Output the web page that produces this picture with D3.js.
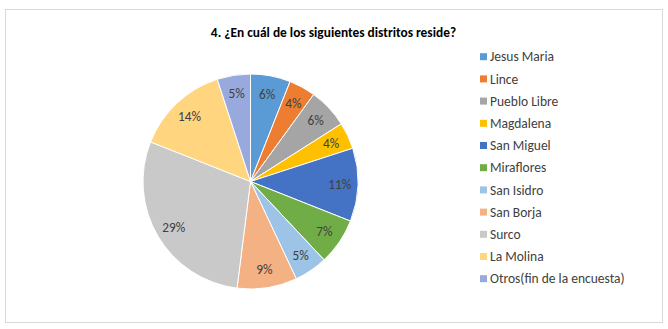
<!DOCTYPE html>
<html><head><meta charset="utf-8">
<script src="https://cdn.jsdelivr.net/npm/d3@7"></script>
<style>body{margin:0;background:#fff}svg{display:block}text{font-family:Carlito,Calibri,"Open Sans",sans-serif}</style>
</head><body>
<script>
const categories = ["Jesus Maria","Lince","Pueblo Libre","Magdalena","San Miguel","Miraflores","San Isidro","San Borja","Surco","La Molina","Otros(fin de la encuesta)"];
const values = [6,4,6,4,11,7,5,9,29,14,5];
const colors = ["#5B9BD5","#ED7D31","#A5A5A5","#FFC000","#4472C4","#70AD47","#9DC3E6","#F4B183","#C9C9C9","#FFD580","#98A9DD"];
const title = "4. ¿En cuál de los siguientes distritos reside?";

const W=668,H=329;
const svg=d3.select("body").append("svg").attr("width",W).attr("height",H);
svg.append("rect").attr("x",5.5).attr("y",9.5).attr("width",657).attr("height",313)
  .attr("fill","#fff").attr("stroke","#d9d9d9").attr("stroke-width",1);
svg.append("text").attr("x",333.5).attr("y",36.5).attr("text-anchor","middle")
  .attr("font-size",13.4).attr("font-weight","bold").attr("fill","#000").text(title);

const cx=250.5, cy=181.5, r=107.5;
const g=svg.append("g").attr("transform",`translate(${cx},${cy})`);
const pie=d3.pie().sort(null).value(d=>d)(values);
const arc=d3.arc().innerRadius(0).outerRadius(r);
const total=d3.sum(values);
g.selectAll("path").data(pie).join("path").attr("d",arc)
  .attr("fill",(d,i)=>colors[i]).attr("stroke","#fff").attr("stroke-width",1);
const larc=d3.arc().innerRadius(r*0.83).outerRadius(r*0.83);
g.selectAll("text.l").data(pie).join("text").attr("class","l")
  .attr("transform",d=>`translate(${larc.centroid(d)})`)
  .attr("text-anchor","middle").attr("dy","0.35em").attr("font-size",13.3).attr("fill","#404040")
  .text(d=>Math.round(d.data/total*100)+"%");

const y=d3.scalePoint().domain(categories).range([56.7,278.7]);
const lg=svg.append("g");
categories.forEach((c,i)=>{
  lg.append("rect").attr("x",480).attr("y",y(c)-3.5).attr("width",7).attr("height",7).attr("fill",colors[i]);
  lg.append("text").attr("x",490).attr("y",y(c)).attr("dy","0.35em").attr("font-size",13.5).attr("fill","#404040").text(c);
});
</script>
</body></html>
